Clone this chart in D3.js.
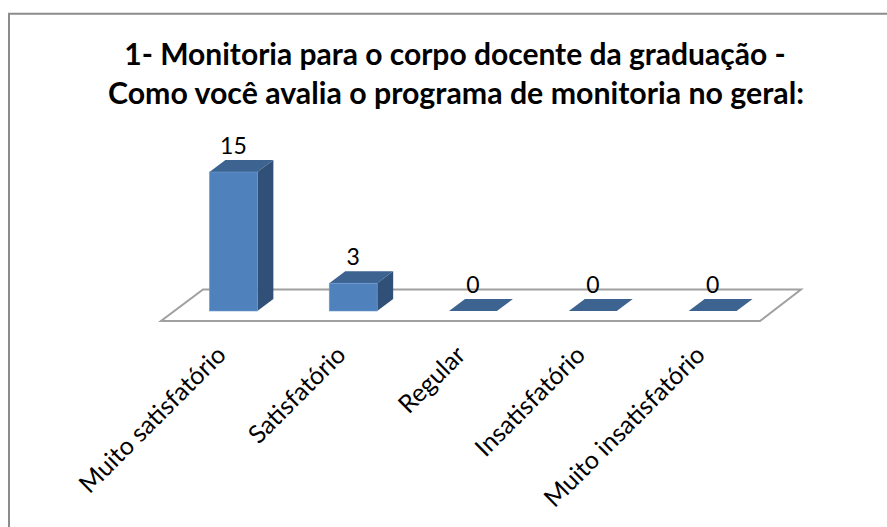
<!DOCTYPE html>
<html><head><meta charset="utf-8">
<style>html,body{margin:0;padding:0;background:#fff}svg{display:block}text{font-family:Lato,"Open Sans",sans-serif;fill:#000}</style>
<script src="https://cdn.jsdelivr.net/npm/d3@7"></script></head>
<body><svg id="c" width="887" height="527"></svg>
<script>
const categories=["Muito satisfatório","Satisfatório","Regular","Insatisfatório","Muito insatisfatório"];
const values=[15,3,0,0,0];
const titleLines=["1- Monitoria para o corpo docente da graduação -","Como você avalia o programa de monitoria no geral:"];

const svg=d3.select("#c");
const baseY=311, floorY=321, depthX=16, depthY=12;
const x=d3.scaleBand().domain(categories).range([173.5,772.5]).paddingInner(0.6).paddingOuter(0.3);
const y=d3.scaleLinear().domain([0,15]).range([baseY,172]);

svg.append("path").attr("d","M9,527V13.7H887").attr("fill","#fff").attr("stroke","#8c8c8c").attr("stroke-width",2);

svg.selectAll(".t").data(titleLines).join("text").attr("class","t")
  .attr("x",(d,i)=>[455,456][i]).attr("y",(d,i)=>[65,104][i]).attr("text-anchor","middle")
  .attr("font-size",(d,i)=>[30,30.3][i]).attr("font-weight",700).text(d=>d);

const floorL=161, floorR=760;
svg.append("path").attr("d",`M${floorL},${floorY}H${floorR}L801,289.5H203Z`)
  .attr("fill","#fff").attr("stroke","#a0a0a0").attr("stroke-width",2);

const cx=d=>x(d)+x.bandwidth()/2;
const g=svg.selectAll(".bar").data(categories).join("g").attr("class","bar");
g.each(function(c,i){
  const s=d3.select(this),x0=x(c),w=x.bandwidth(),t=y(values[i]);
  s.append("path").attr("d",`M${x0},${t}L${x0+depthX},${t-depthY}H${x0+w+depthX}L${x0+w},${t}Z`).attr("fill","#3d6390");
  if(values[i]>0){
    s.append("path").attr("d",`M${x0+w},${t}L${x0+w+depthX},${t-depthY}V${baseY-depthY}L${x0+w},${baseY}Z`).attr("fill","#315078");
    s.append("rect").attr("x",x0).attr("y",t).attr("width",w).attr("height",baseY-t).attr("fill","#4f81bd").attr("stroke","#6f9bd0").attr("stroke-width",.6);
  }
});
svg.selectAll(".v").data(categories).join("text").attr("class","v")
  .attr("x",cx).attr("y",(c,i)=>y(values[i])-18).attr("text-anchor","middle").attr("font-size",23)
  .text((c,i)=>values[i]);
svg.selectAll(".c").data(categories).join("text").attr("class","c")
  .attr("text-anchor","end").attr("font-size",25)
  .attr("transform",c=>`translate(${cx(c)-6},356.5) rotate(-45)`)
  .text(c=>c);
</script></body></html>
